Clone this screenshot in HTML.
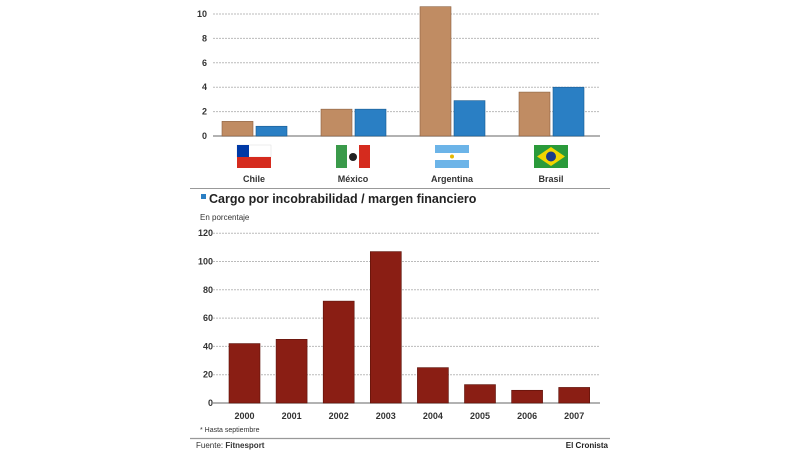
<!DOCTYPE html>
<html><head><meta charset="utf-8"><style>
body{margin:0;background:#fff;width:800px;height:450px;overflow:hidden;font-family:"Liberation Sans",sans-serif}
svg text{font-family:"Liberation Sans",sans-serif}
</style></head><body>
<svg id="c" width="800" height="450">
<g id="topg"></g>
<g id="botg"></g>
</svg>
<script>
const countries=["Chile","México","Argentina","Brasil"];
const tanValues=[1.2,2.2,10.6,3.6];
const blueValues=[0.8,2.2,2.9,4.0];
const topTicks=[0,2,4,6,8,10];
const years=["2000","2001","2002","2003","2004","2005","2006","2007"];
const ratioValues=[42,45,72,107,25,13,9,11];
const botTicks=[0,20,40,60,80,100,120];

const NS="http://www.w3.org/2000/svg";
function mk(p,t,a,txt){const e=document.createElementNS(NS,t);for(const k in a)e.setAttribute(k,a[k]);if(txt!==undefined)e.textContent=txt;p.appendChild(e);return e;}
const svg=document.getElementById('c');
const topG=document.getElementById('topg'),botG=document.getElementById('botg');

const ty=v=>136-v*12.2;
topTicks.forEach(t=>{
 const l=mk(topG,'line',{x1:213,x2:600,y1:ty(t),y2:ty(t),stroke:t===0?'#999':'#bbb','stroke-width':t===0?1.5:1,'stroke-dasharray':t===0?'':'2,1'});
 
 
 const tx=mk(topG,'text',{x:207,y:ty(t)+3,'text-anchor':'end','font-size':9,'font-weight':'bold',fill:'#333'},t);
 
 
});
const gx=i=>222+i*99;
countries.forEach((c,i)=>{
 const b1=mk(topG,'rect',{x:gx(i),y:ty(tanValues[i]),width:31,height:ty(0)-ty(tanValues[i]),fill:'#c08c63',stroke:'#8a6040','stroke-width':0.6});
 
 
 const b2=mk(topG,'rect',{x:gx(i)+34,y:ty(blueValues[i]),width:31,height:ty(0)-ty(blueValues[i]),fill:'#2a7fc4',stroke:'#1a5a90','stroke-width':0.6});
 
 
 const cx=gx(i)+32, fx=cx-17;
 const g=mk(topG,'g',{});
 
 
 if(i===0){mk(g,'rect',{x:fx,y:145,width:34,height:12,fill:'#fff',stroke:'#ddd','stroke-width':0.5});mk(g,'rect',{x:fx,y:157,width:34,height:11,fill:'#d52b1e'});mk(g,'rect',{x:fx,y:145,width:12,height:12,fill:'#0039a6'});}
 if(i===1){mk(g,'rect',{x:fx,y:145,width:11,height:23,fill:'#3a9a4a'});mk(g,'rect',{x:fx+11,y:145,width:12,height:23,fill:'#fff'});mk(g,'rect',{x:fx+23,y:145,width:11,height:23,fill:'#d52b1e'});mk(g,'circle',{cx:cx,cy:157,r:4,fill:'#222'});}
 if(i===2){mk(g,'rect',{x:fx,y:145,width:34,height:8,fill:'#6cb4e8'});mk(g,'rect',{x:fx,y:153,width:34,height:7,fill:'#fff'});mk(g,'rect',{x:fx,y:160,width:34,height:8,fill:'#6cb4e8'});mk(g,'circle',{cx:cx,cy:156.5,r:2,fill:'#e6b800'});}
 if(i===3){mk(g,'rect',{x:fx,y:145,width:34,height:23,fill:'#2a9a3a'});mk(g,'polygon',{points:`${cx},147 ${fx+31},156.5 ${cx},166 ${fx+3},156.5`,fill:'#f2d500'});mk(g,'circle',{cx:cx,cy:156.5,r:5,fill:'#1a3a8a'});}
 const lt=mk(topG,'text',{x:cx,y:182,'text-anchor':'middle','font-size':9,'font-weight':'bold',fill:'#333'},c);
 
 
});
const sep=mk(svg,'line',{x1:190,x2:610,y1:188.5,y2:188.5,stroke:'#999','stroke-width':1});


const sq=mk(svg,'rect',{x:201,y:194,width:5,height:5,fill:'#2a7fc4'});


const ttl=mk(svg,'text',{x:209,y:203,'font-size':12.5,'font-weight':'bold',fill:'#222'},'Cargo por incobrabilidad / margen financiero');


const sub=mk(svg,'text',{x:200,y:220,'font-size':8,fill:'#333'},'En porcentaje');



const by=v=>403-v*1.415;
botTicks.forEach(t=>{
 const l=mk(botG,'line',{x1:213,x2:600,y1:by(t),y2:by(t),stroke:t===0?'#999':'#bbb','stroke-width':t===0?1.5:1,'stroke-dasharray':t===0?'':'2,1'});
 
 
 const tx=mk(botG,'text',{x:213,y:by(t)+3,'text-anchor':'end','font-size':9,'font-weight':'bold',fill:'#333'},t);
 
 
});
years.forEach((y,i)=>{
 const x=229+i*47.1;
 const b=mk(botG,'rect',{x:x,y:by(ratioValues[i]),width:31,height:by(0)-by(ratioValues[i]),fill:'#8a1e14',stroke:'#5a1008','stroke-width':0.6});
 
 
 const t=mk(botG,'text',{x:x+15.5,y:419,'text-anchor':'middle','font-size':9,'font-weight':'bold',fill:'#333'},y);
 
 
});
const note=mk(svg,'text',{x:200,y:432,'font-size':7,fill:'#333'},'* Hasta septiembre');


const fl=mk(svg,'line',{x1:190,x2:610,y1:438.5,y2:438.5,stroke:'#999','stroke-width':1.2});


const src=mk(svg,'text',{x:196,y:448,'font-size':8,fill:'#333'},'Fuente: ');


mk(src,'tspan',{'font-weight':'bold'},'Fitnesport');
const brand=mk(svg,'text',{x:608,y:448,'text-anchor':'end','font-size':8,'font-weight':'bold',fill:'#222'},'El Cronista');


</script>
</body></html>
